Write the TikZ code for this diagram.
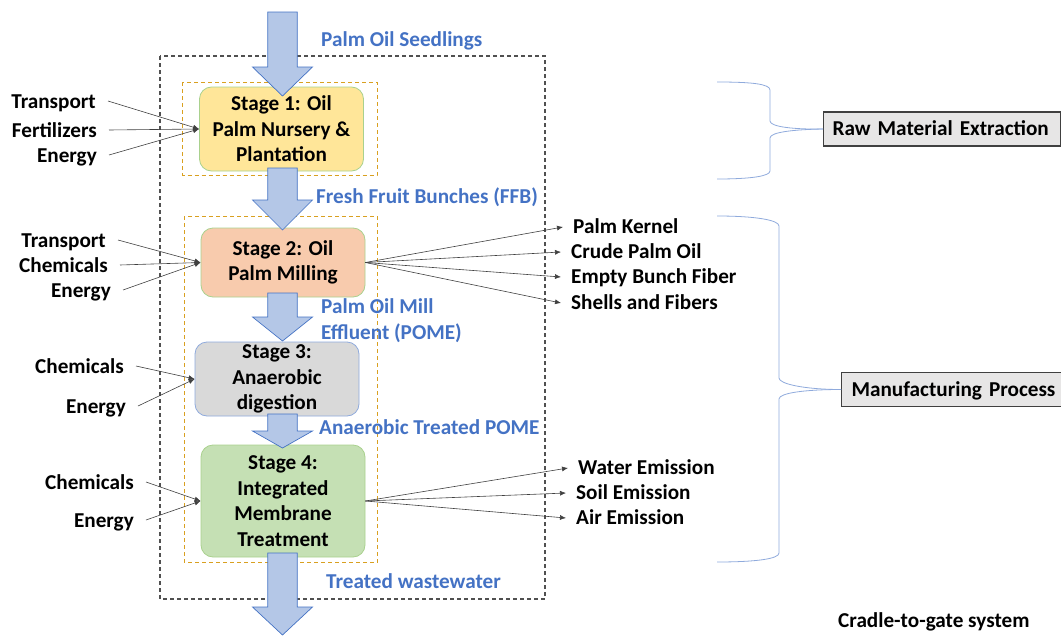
\documentclass[tikz,border=0pt]{standalone}
\usepackage{fontspec}
\setmainfont{Carlito}
\usetikzlibrary{arrows.meta}
\definecolor{arrfill}{HTML}{B4C7E7}
\definecolor{arrline}{HTML}{4472C4}
\definecolor{bluetxt}{HTML}{4472C4}
\definecolor{orangedash}{HTML}{D9A020}
\definecolor{outerdash}{HTML}{505050}
\definecolor{yel}{HTML}{FFE699}
\definecolor{pch}{HTML}{F8CBAD}
\definecolor{gry}{HTML}{D9D9D9}
\definecolor{grn}{HTML}{C5E0B4}
\definecolor{grnline}{HTML}{A9D18E}
\definecolor{bluline}{HTML}{8FAADC}
\definecolor{boxfill}{HTML}{E7E6E6}
\newcommand\lblfont{\fontsize{21.2}{25.5}\selectfont\bfseries}
\newcommand\bigarr[4]{\draw[bigarrow] (#1-14.75,#2) -- (#1+14.75,#2) -- (#1+14.75,#3) -- (#1+30,#3) -- (#1,#4) -- (#1-30,#3) -- (#1-14.75,#3) -- cycle;}
\begin{document}
\begin{tikzpicture}[x=1pt,y=-1pt,
  lbl/.style={font=\lblfont, inner sep=0pt, text height=13.5pt, text depth=0pt},
  bluelbl/.style={lbl, text=bluetxt},
  stagebox/.style={rounded corners=12pt, line width=0.8pt, minimum width=164pt, align=center, font=\lblfont, inner sep=0pt},
  bigarrow/.style={fill=arrfill, draw=arrline, line width=0.7pt},
  thin/.style={draw=black!75, line width=0.6pt, -{Latex[length=6pt,width=5pt]}},
  orbox/.style={draw=orangedash, line width=0.9pt, dash pattern=on 4pt off 3pt},
  outbox/.style={draw=outerdash, line width=1.2pt, dash pattern=on 4pt off 3pt},
  brace/.style={draw=bluline, line width=0.8pt},
  sidebox/.style={draw=black!75, fill=boxfill, line width=1.2pt, font=\lblfont, align=left, inner ysep=0pt, minimum height=34pt, text height=13.5pt, text depth=0pt}
]
\useasboundingbox (0,0) rectangle (1061,637);

% dashed system boundaries
\draw[outbox] (160,56) rectangle (545,599);
\draw[orbox] (182.5,82) rectangle (377,175);
\draw[orbox] (184,216) rectangle (377.5,562);

% stage boxes
\node[stagebox, fill=yel, draw=grnline, minimum height=84pt] (s1) at (281.5,129) {Stage 1: Oil\\Palm Nursery \&\\Plantation};
\node[stagebox, fill=pch, draw=grnline, minimum height=69pt] (s2) at (283,262.5) {Stage 2: Oil\\Palm Milling};
\node[stagebox, fill=gry, draw=bluline, minimum height=74pt] (s3) at (277,379) {Stage 3:\\Anaerobic\\digestion};
\node[stagebox, fill=grn, draw=grnline, minimum height=112pt] (s4) at (283,501) {Stage 4:\\Integrated\\Membrane\\Treatment};

% big flow arrows
\bigarr{282.5}{12}{67}{96}
\bigarr{282.5}{168}{200}{230}
\bigarr{282.5}{293}{317}{341}
\bigarr{282.5}{414}{431}{448}
\bigarr{282.5}{553}{607}{635}

% blue flow labels
\node[bluelbl, anchor=west] (f1) at (321,40) {Palm Oil Seedlings};
\node[bluelbl, anchor=west] (f2) at (316,197) {Fresh Fruit Bunches (FFB)};
\node[font=\lblfont, text=bluetxt, inner sep=0pt, align=left, anchor=west] (f3) at (321,320.5) {Palm Oil Mill\\Effluent (POME)};
\node[bluelbl, anchor=west] (f4) at (319,428) {Anaerobic Treated POME};
\node[bluelbl, anchor=west] (f5) at (326,582) {Treated wastewater};

% inputs stage 1
\node[lbl, anchor=east] (i11) at (96,102) {Transport};
\node[lbl, anchor=east] (i12) at (97,131) {Fertilizers};
\node[lbl, anchor=east] (i13) at (97,156) {Energy};
% inputs stage 2
\node[lbl, anchor=east] (i21) at (106,241) {Transport};
\node[lbl, anchor=east] (i22) at (108,266) {Chemicals};
\node[lbl, anchor=east] (i23) at (111,291) {Energy};
% inputs stage 3
\node[lbl, anchor=east] (i31) at (124,367) {Chemicals};
\node[lbl, anchor=east] (i32) at (126,407) {Energy};
% inputs stage 4
\node[lbl, anchor=east] (i41) at (134,483) {Chemicals};
\node[lbl, anchor=east] (i42) at (134,521) {Energy};

\foreach \n/\s in {i11/s1,i12/s1,i13/s1,i21/s2,i22/s2,i23/s2,i31/s3,i32/s3,i41/s4,i42/s4}
  \draw[thin] ([xshift=12pt,yshift=1pt]\n.east) -- (\s.west);

% outputs stage 2
\node[lbl, anchor=west] (o1) at (573,227) {Palm Kernel};
\node[lbl, anchor=west] (o2) at (571,252) {Crude Palm Oil};
\node[lbl, anchor=west] (o3) at (571,277) {Empty Bunch Fiber};
\node[lbl, anchor=west] (o4) at (571,303) {Shells and Fibers};
% outputs stage 4
\node[lbl, anchor=west] (o5) at (578,468) {Water Emission};
\node[lbl, anchor=west] (o6) at (576,493) {Soil Emission};
\node[lbl, anchor=west] (o7) at (576,518) {Air Emission};

\foreach \n in {o1,o2,o3,o4}
  \draw[thin] (s2.east) -- ([xshift=-10pt]\n.west);
\foreach \n in {o5,o6,o7}
  \draw[thin] (s4.east) -- ([xshift=-10pt]\n.west);

% side boxes
\node[sidebox, anchor=west, text width=219pt, inner xsep=9pt] (raw) at (823,129) {\mbox{Raw Material Extraction}};
\node[sidebox, anchor=west, text width=199.5pt, inner xsep=10pt] (mfg) at (841,389.5) {\mbox{Manufacturing Process}};

% braces
\draw[brace] (717,82) .. controls (752,82) and (770,84) .. (770,90) -- (770,121)
  .. controls (770,127) and (795,129.5) .. (raw.west);
\draw[brace] (raw.west) .. controls (795,129.5) and (770,132) .. (770,138) -- (770,171)
  .. controls (770,176) and (752,179) .. (717,179);
\draw[brace] (717,216) .. controls (755,216) and (779,220) .. (779,226) -- (779,378)
  .. controls (779,384) and (805,389.5) .. (mfg.west);
\draw[brace] (mfg.west) .. controls (805,389.5) and (779,393) .. (779,399) -- (779,553)
  .. controls (779,559) and (755,562) .. (717,562);

% caption
\node[lbl, anchor=west] (cap) at (838,621) {Cradle-to-gate system};
\end{tikzpicture}
\end{document}
